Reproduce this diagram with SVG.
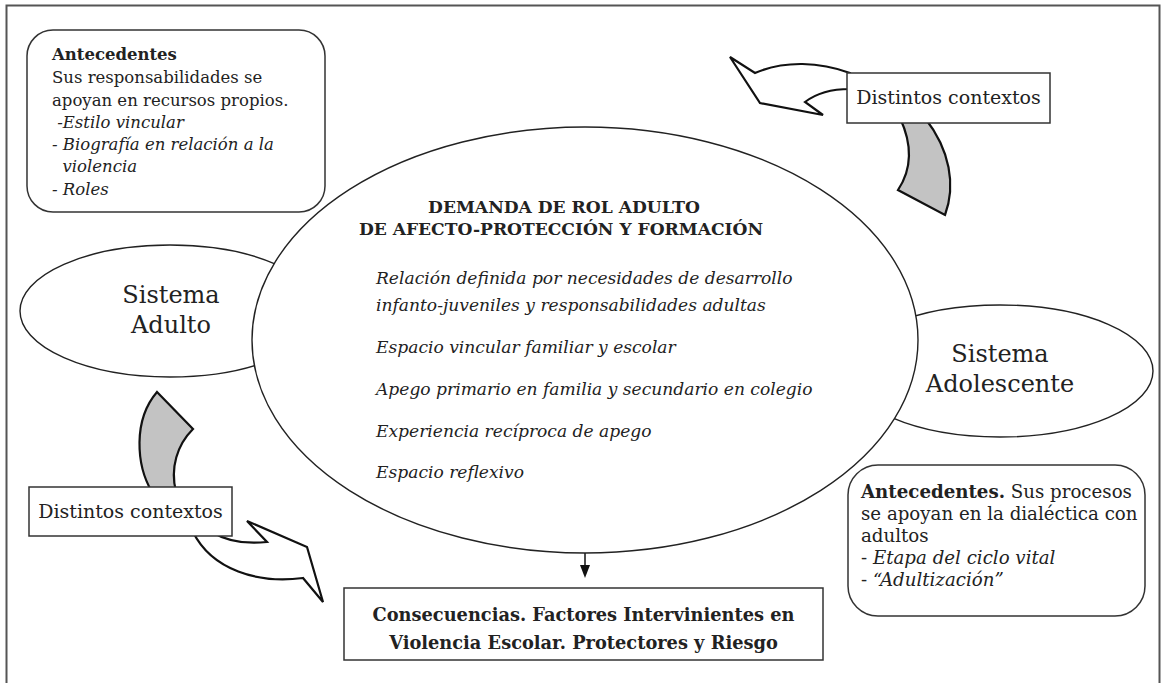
<svg xmlns="http://www.w3.org/2000/svg" width="1163" height="683" viewBox="0 0 1163 683">
<defs>
<style>
.frame{fill:none;stroke:#555;stroke-width:2}
.shape{fill:#fff;stroke:#222;stroke-width:1.4}
.box{fill:#fff;stroke:#333;stroke-width:1.5}
.band{fill:#c3c3c3;stroke:#111;stroke-width:2.2;stroke-linejoin:miter}
.head{fill:#fff;stroke:#111;stroke-width:2.2;stroke-linejoin:miter}
text{font-family:"DejaVu Serif","Liberation Serif",serif;fill:#222}
.body{font-size:16.5px}
.body2{font-size:18.2px}
.cit{font-size:17.1px;font-style:italic}
.it{font-style:italic}
.b{font-weight:bold}
.sys{font-size:24px;text-anchor:middle}
.ctx{font-size:19px;text-anchor:middle}
.title{font-size:17.1px;font-weight:bold;text-anchor:middle}
.cons{font-size:17.8px;font-weight:bold;text-anchor:middle}
.conn{stroke:#111;stroke-width:1.5;fill:none}
</style>
</defs>
<rect class="frame" x="6.5" y="5.5" width="1153" height="700"/>

<g id="connectors">
  <!-- top-right curved arrow -->
  <path class="band" d="M900,118 C914,148 910,172 898,190 L945,215 C956,185 950,150 925,118 Z"/>
  <path class="head" d="M850,73 C820,62 785,60 755,73 L730,57 L760,103 L823,115 L805,102 C818,92 832,89 850,89 Z"/>
  <!-- bottom-left curved arrow -->
  <path class="band" d="M157,392 L193,429 C177,445 170,468 176,492 L152,492 C136,465 133,420 157,392 Z"/>
  <path class="head" d="M193,532 C212,570 258,584 303,578 L323,602 L307,547 L247,521 L267,542 C248,544 228,542 212,532 Z"/>
  <!-- ellipse to consequences -->
  <line class="conn" x1="585" y1="553" x2="585" y2="567"/>
  <polygon points="580,565 590,565 585,578" fill="#111"/>
</g>

<g id="sistema-adulto">
  <ellipse class="shape" cx="170" cy="311" rx="150" ry="66"/>
  <text class="sys" x="171" y="303">Sistema</text>
  <text class="sys" x="171" y="333">Adulto</text>
</g>

<g id="sistema-adolescente">
  <ellipse class="shape" cx="1000" cy="371" rx="153" ry="66"/>
  <text class="sys" x="1000" y="362">Sistema</text>
  <text class="sys" x="1000" y="392">Adolescente</text>
</g>

<g id="demanda">
  <ellipse class="shape" cx="585" cy="340" rx="333" ry="213"/>
  <text class="title" x="564" y="213">DEMANDA DE ROL ADULTO</text>
  <text class="title" x="561" y="235">DE AFECTO-PROTECCIÓN Y FORMACIÓN</text>
  <text class="cit" x="376" y="284">Relación definida por necesidades de desarrollo</text>
  <text class="cit" x="376" y="311">infanto-juveniles y responsabilidades adultas</text>
  <text class="cit" x="376" y="353">Espacio vincular familiar y escolar</text>
  <text class="cit" x="376" y="395">Apego primario en familia y secundario en colegio</text>
  <text class="cit" x="376" y="437">Experiencia recíproca de apego</text>
  <text class="cit" x="376" y="478">Espacio reflexivo</text>
</g>

<g id="antecedentes-adulto">
  <rect class="box" x="27" y="30" width="298" height="182" rx="26"/>
  <text class="body b" x="52" y="60">Antecedentes</text>
  <text class="body" x="52" y="83">Sus responsabilidades se</text>
  <text class="body" x="52" y="106">apoyan en recursos propios.</text>
  <text class="body it" x="52" y="128" xml:space="preserve"> -Estilo vincular</text>
  <text class="body it" x="52" y="150">- Biografía en relación a la</text>
  <text class="body it" x="52" y="172" xml:space="preserve">  violencia</text>
  <text class="body it" x="52" y="195">- Roles</text>
</g>

<g id="antecedentes-adolescente">
  <rect class="box" x="848" y="465" width="297" height="151" rx="30"/>
  <text class="body2" x="861" y="498"><tspan class="b">Antecedentes.</tspan> Sus procesos</text>
  <text class="body2" x="861" y="520">se apoyan en la dialéctica con</text>
  <text class="body2" x="861" y="542">adultos</text>
  <text class="body2" x="861" y="564">- <tspan class="it">Etapa del ciclo vital</tspan></text>
  <text class="body2" x="861" y="586">- <tspan class="it">“Adultización”</tspan></text>
</g>

<g id="contextos-superior">
  <rect class="box" x="847" y="73" width="203" height="50"/>
  <text class="ctx" x="948.5" y="104">Distintos contextos</text>
</g>

<g id="contextos-inferior">
  <rect class="box" x="29" y="487" width="203" height="49"/>
  <text class="ctx" x="130.5" y="518">Distintos contextos</text>
</g>

<g id="consecuencias">
  <rect class="box" x="344" y="588" width="479" height="72"/>
  <text class="cons" x="583.5" y="621">Consecuencias. Factores Intervinientes en</text>
  <text class="cons" x="583.5" y="649">Violencia Escolar. Protectores y Riesgo</text>
</g>
</svg>
